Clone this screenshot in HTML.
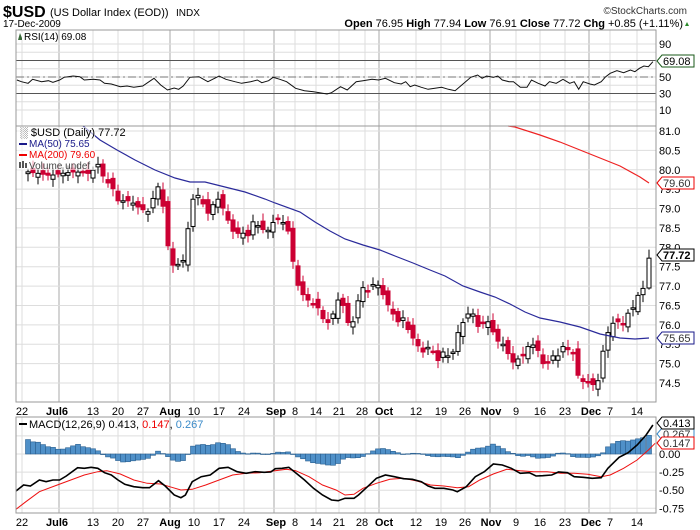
<!DOCTYPE html>
<html><head><meta charset="utf-8"><style>
html,body{margin:0;padding:0;background:#fff;}
svg{display:block;font-family:"Liberation Sans",sans-serif;}
</style></head><body>
<svg id="s" width="700" height="530" viewBox="0 0 700 530" xmlns="http://www.w3.org/2000/svg">
<rect width="700" height="530" fill="#fff"/>
<g id="grid"></g>
<g id="content"></g>
<text x="3" y="17" font-size="16" font-weight="bold" fill="#000">$USD</text>
<text x="50" y="16" font-size="11" fill="#000">(US Dollar Index (EOD))</text>
<text x="176" y="16" font-size="10" fill="#000">INDX</text>
<text x="3" y="27" font-size="10" fill="#000">17-Dec-2009</text>
<text x="687" y="14" font-size="10" fill="#333" text-anchor="end">©StockCharts.com</text>
<text x="683" y="27" font-size="11" fill="#000" text-anchor="end"><tspan font-weight="bold">Open</tspan> 76.95 <tspan font-weight="bold">High</tspan> 77.94 <tspan font-weight="bold">Low</tspan> 76.91 <tspan font-weight="bold">Close</tspan> 77.72 <tspan font-weight="bold">Chg</tspan> +0.85 (+1.11%)</text>
<polygon points="685,26 689,26 687,22" fill="#2a8a2a"/>
</svg>
<script>
var NS="http://www.w3.org/2000/svg";
var G=document.getElementById("grid"),C=document.getElementById("content");
function el(p,tag,a,txt){var e=document.createElementNS(NS,tag);for(var k in a)e.setAttribute(k,a[k]);if(txt!=null)e.textContent=txt;p.appendChild(e);return e;}
var L=16,R=656;
// vertical grid
var wk=[22,93,118,143,194,219,244,295,316,339,365,416,441,465,516,540,565,610,637];
var mo=[59,170,274,379,490,589];
[[30,126],[126,402],[417,513]].forEach(function(p){
 wk.forEach(function(x){el(G,"line",{x1:x,x2:x,y1:p[0],y2:p[1],stroke:"#ddd","stroke-width":1});});
 mo.forEach(function(x){el(G,"line",{x1:x,x2:x,y1:p[0],y2:p[1],stroke:"#aaa","stroke-width":1});});
});
// RSI panel
function ry(v){return 77-(v-50)*0.825;}
for(var v=10;v<=90;v+=10){el(G,"line",{x1:L,x2:R,y1:ry(v),y2:ry(v),stroke:"#ddd"});}
el(G,"line",{x1:L,x2:R,y1:ry(70),y2:ry(70),stroke:"#555"});
el(G,"line",{x1:L,x2:R,y1:ry(30),y2:ry(30),stroke:"#555"});
el(G,"line",{x1:L,x2:R,y1:ry(50),y2:ry(50),stroke:"#777","stroke-dasharray":"8,3,2,3"});
[90,50,30,10].forEach(function(v){el(C,"text",{x:659,y:ry(v)+4,"font-size":11},v);});
var rz=[[40,240],[50,245],[65,250],[75,238],[95,245],[110,242],[120,247],[135,240],[145,232],[165,228],[180,230],[190,240],[210,238],[225,240],[235,250],[250,252],[270,260],[285,258],[300,262],[320,258],[345,235],[360,255],[375,270],[390,264],[400,268],[410,258],[425,232],[445,230],[465,245],[490,228],[505,238],[525,245],[540,250],[560,245],[575,240],[585,248],[600,242],[610,232],[625,238],[640,245],[660,265],[680,272],[700,275],[730,282],[740,278],[760,260],[775,270],[795,245],[810,242],[830,238],[845,240],[860,235],[880,248],[895,252],[905,245],[915,260],[925,255],[940,262],[955,268],[970,265],[985,262],[1000,268],[1015,272],[1030,255],[1050,232],[1065,225],[1075,235],[1085,228],[1100,232],[1110,228],[1120,240],[1135,245],[1145,245],[1160,262],[1175,262],[1185,240],[1200,250],[1215,258],[1225,245],[1240,250],[1255,238],[1270,250],[1280,245],[1290,268],[1300,245],[1315,252],[1325,255],[1340,245],[1350,230],[1360,220],[1375,212],[1390,218],[1405,210],[1415,215],[1425,205],[1435,198],[1445,200],[1455,185]];
function zx(z){return 16+(z-38)/2.225;}
el(C,"polyline",{points:rz.map(function(p){return zx(p[0]).toFixed(1)+","+(p[1]/3).toFixed(1);}).join(" "),fill:"none",stroke:"#111","stroke-width":1});
el(C,"rect",{x:16,y:32,width:7,height:8,fill:"#fff"});
el(C,"polygon",{points:"18,40 20,33 22,38 22,40",fill:"#3a6a3a"});
el(C,"text",{x:24,y:40,"font-size":10},"RSI(14) 69.08");
el(C,"polygon",{points:"657,61 662,55 694,55 694,67 662,67",fill:"#fff",stroke:"#1a5a1a"});
el(C,"text",{x:663,y:65,"font-size":11},"69.08");
// Main panel
function py(p){return 131+(81-p)*38.77;}
for(var p=74.5;p<=81.01;p+=0.5){el(G,"line",{x1:L,x2:R,y1:py(p),y2:py(p),stroke:"#ddd"});el(C,"text",{x:659,y:py(p)+4,"font-size":11},p.toFixed(1));}
for(var yy=103;yy<126;yy+=9){}
var kp=[[27,79.95],[40,79.9],[50,79.85],[60,79.9],[75,79.95],[90,79.9],[100,80.2],[105,79.6],[110,79.7],[118,79.2],[130,79.2],[140,79.0],[150,78.9],[155,79.5],[160,79.6],[165,78.7],[170,77.6],[175,77.5],[185,77.7],[190,79.0],[195,79.4],[200,79.3],[205,79.0],[210,78.8],[215,79.3],[220,79.2],[228,78.7],[235,78.3],[240,78.4],[248,78.3],[255,78.8],[260,78.4],[265,78.5],[270,78.4],[275,78.8],[285,78.6],[290,78.3],[295,77.2],[300,76.9],[305,76.7],[315,76.5],[320,76.4],[325,76.0],[330,76.1],[335,76.4],[340,76.8],[345,76.3],[350,75.9],[355,76.2],[360,76.9],[365,77.0],[370,76.8],[375,77.2],[380,76.9],[385,76.7],[390,76.4],[395,76.2],[400,76.0],[405,76.3],[410,75.6],[415,75.7],[420,75.3],[425,75.3],[430,75.5],[435,75.2],[440,75.0],[445,75.5],[450,75.0],[455,75.5],[460,76.0],[465,76.1],[470,76.4],[475,76.2],[480,75.8],[485,76.2],[490,76.0],[495,75.7],[500,75.5],[505,75.5],[510,75.1],[515,75.0],[520,75.2],[525,75.2],[530,75.6],[535,75.4],[540,75.3],[545,74.8],[550,75.2],[555,75.2],[560,75.2],[565,75.6],[570,75.2],[575,75.3],[580,74.3],[585,74.7],[590,74.4],[595,74.5],[600,74.6],[605,75.8],[610,75.8],[615,76.2],[620,76.0],[625,76.0],[630,76.5],[635,76.4],[640,77.0],[645,76.9],[649,77.72]];
function interp(a,x){if(x<=a[0][0])return a[0][1];for(var i=1;i<a.length;i++){if(x<=a[i][0]){var t=(x-a[i-1][0])/(a[i][0]-a[i-1][0]);return a[i-1][1]+t*(a[i][1]-a[i-1][1]);}}return a[a.length-1][1];}
var prev=79.9;
for(var i=0;i<125;i++){
 var x=28+5*i; if(i==124)x=649;
 var c=interp(kp,x);
 var o=prev+0.12*Math.sin(i*2.3);
 if(i==124)o=76.95;
 var hi=Math.max(o,c)+0.08+0.12*Math.abs(Math.sin(i*1.7));
 var lo=Math.min(o,c)-0.08-0.12*Math.abs(Math.cos(i*1.3));
 if(i==124){hi=77.94;lo=76.91;}
 var up=c>=o, col=up?"#000":"#cc0033";
 el(C,"line",{x1:x,x2:x,y1:py(hi),y2:py(lo),stroke:col,"stroke-width":1});
 var t=py(Math.max(o,c)),b=py(Math.min(o,c));if(b-t<1.5)b=t+1.5;
 el(C,"rect",{x:x-2,y:t,width:4,height:b-t,fill:up?"#fff":"#cc0033",stroke:up?"#000":"#cc0033","stroke-width":1});
 prev=c;
}
el(C,"polyline",{points:"83,126 100,140 117,150 135,160 155,170 175,178 190,182 205,182 225,187 245,192 265,199 275,203 300,212 315,222 330,231 345,239 363,245 380,250 395,256 413,263 430,270 445,276 463,286 480,292 495,297 510,304 525,312 540,318 560,322 580,327 600,334 620,338 635,339 649,338",fill:"none",stroke:"#2a2a9a","stroke-width":1.2});
el(C,"polyline",{points:"508,126 515,127 540,135 560,142 580,150 600,158 620,166 640,177 649,183",fill:"none",stroke:"#ee2222","stroke-width":1.2});
el(C,"rect",{x:17,y:127,width:78,height:43,fill:"#fff","fill-opacity":"0.6"});
el(C,"text",{x:20,y:136,"font-size":11},"\u2591 $USD (Daily) 77.72");
el(C,"line",{x1:19,x2:27,y1:144,y2:144,stroke:"#1a1a8a","stroke-width":2});
el(C,"text",{x:29,y:147,"font-size":10,fill:"#1a1a8a"},"MA(50) 75.65");
el(C,"line",{x1:19,x2:27,y1:155,y2:155,stroke:"#e00","stroke-width":2});
el(C,"text",{x:29,y:158,"font-size":10,fill:"#e00"},"MA(200) 79.60");
el(C,"rect",{x:19,y:162,width:2,height:6,fill:"#555"});el(C,"rect",{x:22,y:161,width:2,height:7,fill:"#555"});el(C,"rect",{x:25,y:163,width:2,height:5,fill:"#555"});
el(C,"text",{x:29,y:169,"font-size":10,fill:"#444"},"Volume undef");
function tag(y,txt,col,bold){el(C,"polygon",{points:"657,"+y+" 662,"+(y-6)+" 694,"+(y-6)+" 694,"+(y+6)+" 662,"+(y+6),fill:"#fff",stroke:col});var a={x:663,y:y+4,"font-size":11,fill:col=="#000"?"#000":"#333"};if(bold)a["font-weight"]="bold";el(C,"text",a,txt);}
tag(183,"79.60","#e00");tag(338,"75.65","#1a1a8a");tag(255,"77.72","#000",true);
// MACD
function my(v){return 454-v*72.4;}
[0.25,0,-0.25,-0.5,-0.75].forEach(function(v){el(G,"line",{x1:L,x2:R,y1:my(v),y2:my(v),stroke:"#ddd"});});
[[0,"0.00"],[-0.25,"-0.25"],[-0.5,"-0.50"],[-0.75,"-0.75"]].forEach(function(a){el(C,"text",{x:659,y:my(a[0])+4,"font-size":11},a[1]);});
var mz=[[38,333],[55,315],[70,318],[90,300],[105,305],[120,300],[135,300],[150,288],[175,263],[190,265],[205,262],[220,265],[235,278],[250,285],[265,300],[280,313],[300,320],[320,323],[335,323],[355,302],[370,318],[390,345],[405,353],[415,345],[430,305],[450,290],[470,285],[490,265],[510,262],[530,275],[550,280],[570,275],[590,277],[605,276],[615,266],[630,265],[645,262],[660,278],[680,300],[700,325],[720,345],[740,360],[755,362],[770,355],[790,355],[800,345],[820,320],[840,295],[860,285],[880,290],[900,296],[920,298],[940,305],[955,318],[970,325],[990,325],[1010,330],[1020,335],[1040,320],[1060,290],[1080,275],[1100,252],[1120,255],[1140,265],[1160,280],[1180,278],[1195,288],[1210,287],[1230,285],[1245,276],[1265,278],[1280,290],[1300,292],[1320,295],[1340,293],[1355,265],[1380,232],[1400,218],[1420,195],[1440,165],[1455,135]];
var sz=[[38,388],[60,365],[90,335],[130,315],[160,300],[190,285],[220,275],[240,272],[270,282],[300,300],[330,310],[360,312],[380,320],[405,330],[430,328],[460,315],[490,300],[520,285],[550,280],[580,278],[610,273],[640,268],[660,272],[690,290],[720,315],[750,330],[770,345],[790,343],[810,325],[840,310],[870,298],[900,295],[930,303],[960,315],[990,318],[1020,323],[1045,320],[1070,300],[1100,282],[1130,268],[1160,272],[1190,275],[1220,275],[1250,280],[1280,280],[1310,283],[1340,290],[1360,285],[1390,265],[1420,240],[1445,210],[1460,190]];
function conv(a){return a.map(function(p){return [zx(p[0]),380+p[1]/3];});}
var M=conv(mz),S=conv(sz);
for(var i=0;i<125;i++){var x=28+5*i;if(i==124)x=649;var h=interp(S,x)-interp(M,x);var y0=454;var t=Math.min(y0,y0-h),hh=Math.abs(h);
 el(C,"rect",{x:x-2.5,y:t,width:5,height:Math.max(hh,0.5),fill:"#4f90c8",stroke:"#2a5f8f","stroke-width":0.6});}
el(C,"polyline",{points:S.map(function(p){return p[0].toFixed(1)+","+p[1].toFixed(1);}).join(" "),fill:"none",stroke:"#ee1111","stroke-width":1});
el(C,"polyline",{points:M.map(function(p){return p[0].toFixed(1)+","+p[1].toFixed(1);}).join(" "),fill:"none",stroke:"#000","stroke-width":1.6});
el(C,"line",{x1:19,x2:27,y1:424,y2:424,stroke:"#000","stroke-width":2});
var tx=el(C,"text",{x:29,y:428,"font-size":11},null);
el(tx,"tspan",{},"MACD(12,26,9) 0.413, ");el(tx,"tspan",{fill:"#e00"},"0.147");el(tx,"tspan",{},", ");el(tx,"tspan",{fill:"#3a8ac8"},"0.267");
tag(434,"0.267","#3a8ac8");tag(443,"0.147","#e00");tag(423,"0.413","#000");
// frames
[[30,126],[126,402],[417,513]].forEach(function(p){el(C,"rect",{x:L,y:p[0],width:R-L,height:p[1]-p[0],fill:"none",stroke:"#999"});});
// date axes
var labs=[[22,"22",0],[57,"Jul6",1],[93,"13",0],[118,"20",0],[143,"27",0],[170,"Aug",1],[194,"10",0],[219,"17",0],[244,"24",0],[276,"Sep",1],[295,"8",0],[316,"14",0],[339,"21",0],[362,"28",0],[384,"Oct",1],[416,"12",0],[441,"19",0],[465,"26",0],[491,"Nov",1],[516,"9",0],[540,"16",0],[565,"23",0],[591,"Dec",1],[610,"7",0],[637,"14",0]];
[415,526].forEach(function(y){labs.forEach(function(l){var a={x:l[0],y:y,"font-size":11,"text-anchor":"middle"};if(l[2])a["font-weight"]="bold";
 if(l[1]=="Jul6"){var t=el(C,"text",a,null);el(t,"tspan",{"font-weight":"bold"},"Jul");el(t,"tspan",{},"6");}else el(C,"text",a,l[1]);});});
</script>
</body></html>
